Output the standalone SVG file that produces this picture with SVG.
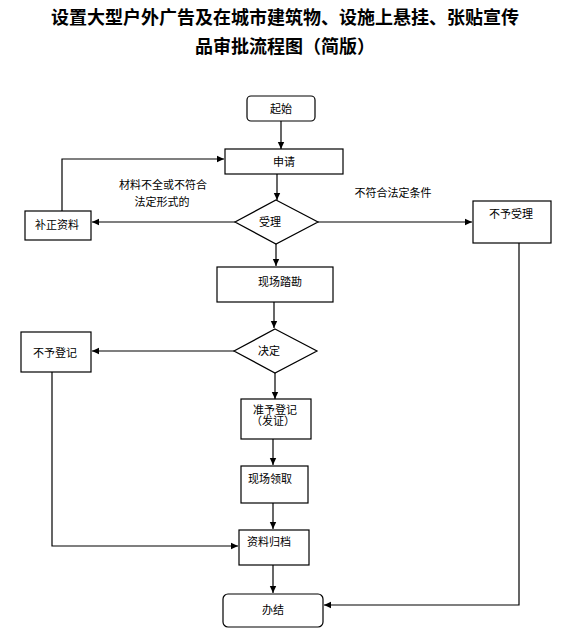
<svg xmlns="http://www.w3.org/2000/svg" width="570" height="630" viewBox="0 0 570 630">
<defs>
<marker id="arr" markerWidth="8" markerHeight="8" refX="7" refY="4" orient="auto" markerUnits="userSpaceOnUse">
<path d="M0,0.8 L7,4 L0,7.2 Z" fill="#000"/>
</marker>
<style>
.box{fill:#fff;stroke:#000;stroke-width:1.2}
.t{font-family:"Liberation Sans","Noto Sans CJK SC",sans-serif;font-size:11px;fill:#000;text-anchor:middle;dominant-baseline:central}
.title{font-family:"Liberation Sans","Noto Sans CJK SC",sans-serif;font-size:18px;font-weight:bold;fill:#000;text-anchor:middle}
.c{fill:none;stroke:#000;stroke-width:1.2;marker-end:url(#arr)}
</style>
</defs>
<rect width="570" height="630" fill="#fff"/>
<text class="title" x="285" y="24">设置大型户外广告及在城市建筑物、设施上悬挂、张贴宣传</text>
<text class="title" x="285" y="53">品审批流程图（简版）</text>
<g id="connectors">
<path class="c" d="M281,121 V149"/>
<path class="c" d="M62,211 V159 H224"/>
<path class="c" d="M277,174 V200"/>
<path class="c" d="M235,222 H92"/>
<path class="c" d="M318,222 H472"/>
<path class="c" d="M276,244 V266"/>
<path class="c" d="M274,302 V328"/>
<path class="c" d="M234,351 H92"/>
<path class="c" d="M275,373 V399"/>
<path class="c" d="M273,439 V465"/>
<path class="c" d="M52,372 V546 H238"/>
<path class="c" d="M273,503 V529"/>
<path class="c" d="M273,565 V593"/>
<path class="c" d="M519,243 V605 H324"/>
<text class="t" x="163" y="185">材料不全或不符合</text>
<text class="t" x="162" y="202">法定形式的</text>
<text class="t" x="393" y="193">不符合法定条件</text>
</g>
<g id="start"><rect class="box" x="247" y="96" width="68" height="25" rx="4"/><text class="t" x="281" y="109">起始</text></g>
<g id="apply"><rect class="box" x="225" y="149" width="118" height="25"/><text class="t" x="284" y="162">申请</text></g>
<g id="supplement"><rect class="box" x="25" y="211" width="66" height="29"/><text class="t" x="57" y="225">补正资料</text></g>
<g id="accept"><polygon class="box" points="276,200 318,222 276,244 235,222"/><text class="t" x="270" y="222">受理</text></g>
<g id="reject"><rect class="box" x="473" y="201" width="78" height="42"/><text class="t" x="511" y="214">不予受理</text></g>
<g id="survey"><rect class="box" x="217" y="267" width="116" height="35"/><text class="t" x="280" y="282">现场踏勘</text></g>
<g id="decide"><polygon class="box" points="275,329 317,351 275,373 234,351"/><text class="t" x="269" y="351">决定</text></g>
<g id="noreg"><rect class="box" x="21" y="332" width="70" height="40"/><text class="t" x="55" y="353">不予登记</text></g>
<g id="approve"><rect class="box" x="241" y="399" width="70" height="40"/><text class="t" x="275" y="410">准予登记</text><text class="t" x="273" y="421">（发证）</text></g>
<g id="collect"><rect class="box" x="241" y="466" width="67" height="37"/><text class="t" x="270" y="479">现场领取</text></g>
<g id="archive"><rect class="box" x="239" y="530" width="70" height="35"/><text class="t" x="269" y="542">资料归档</text></g>
<g id="end"><rect class="box" x="223" y="594" width="100" height="33" rx="5"/><text class="t" x="273" y="610">办结</text></g>
</svg>
